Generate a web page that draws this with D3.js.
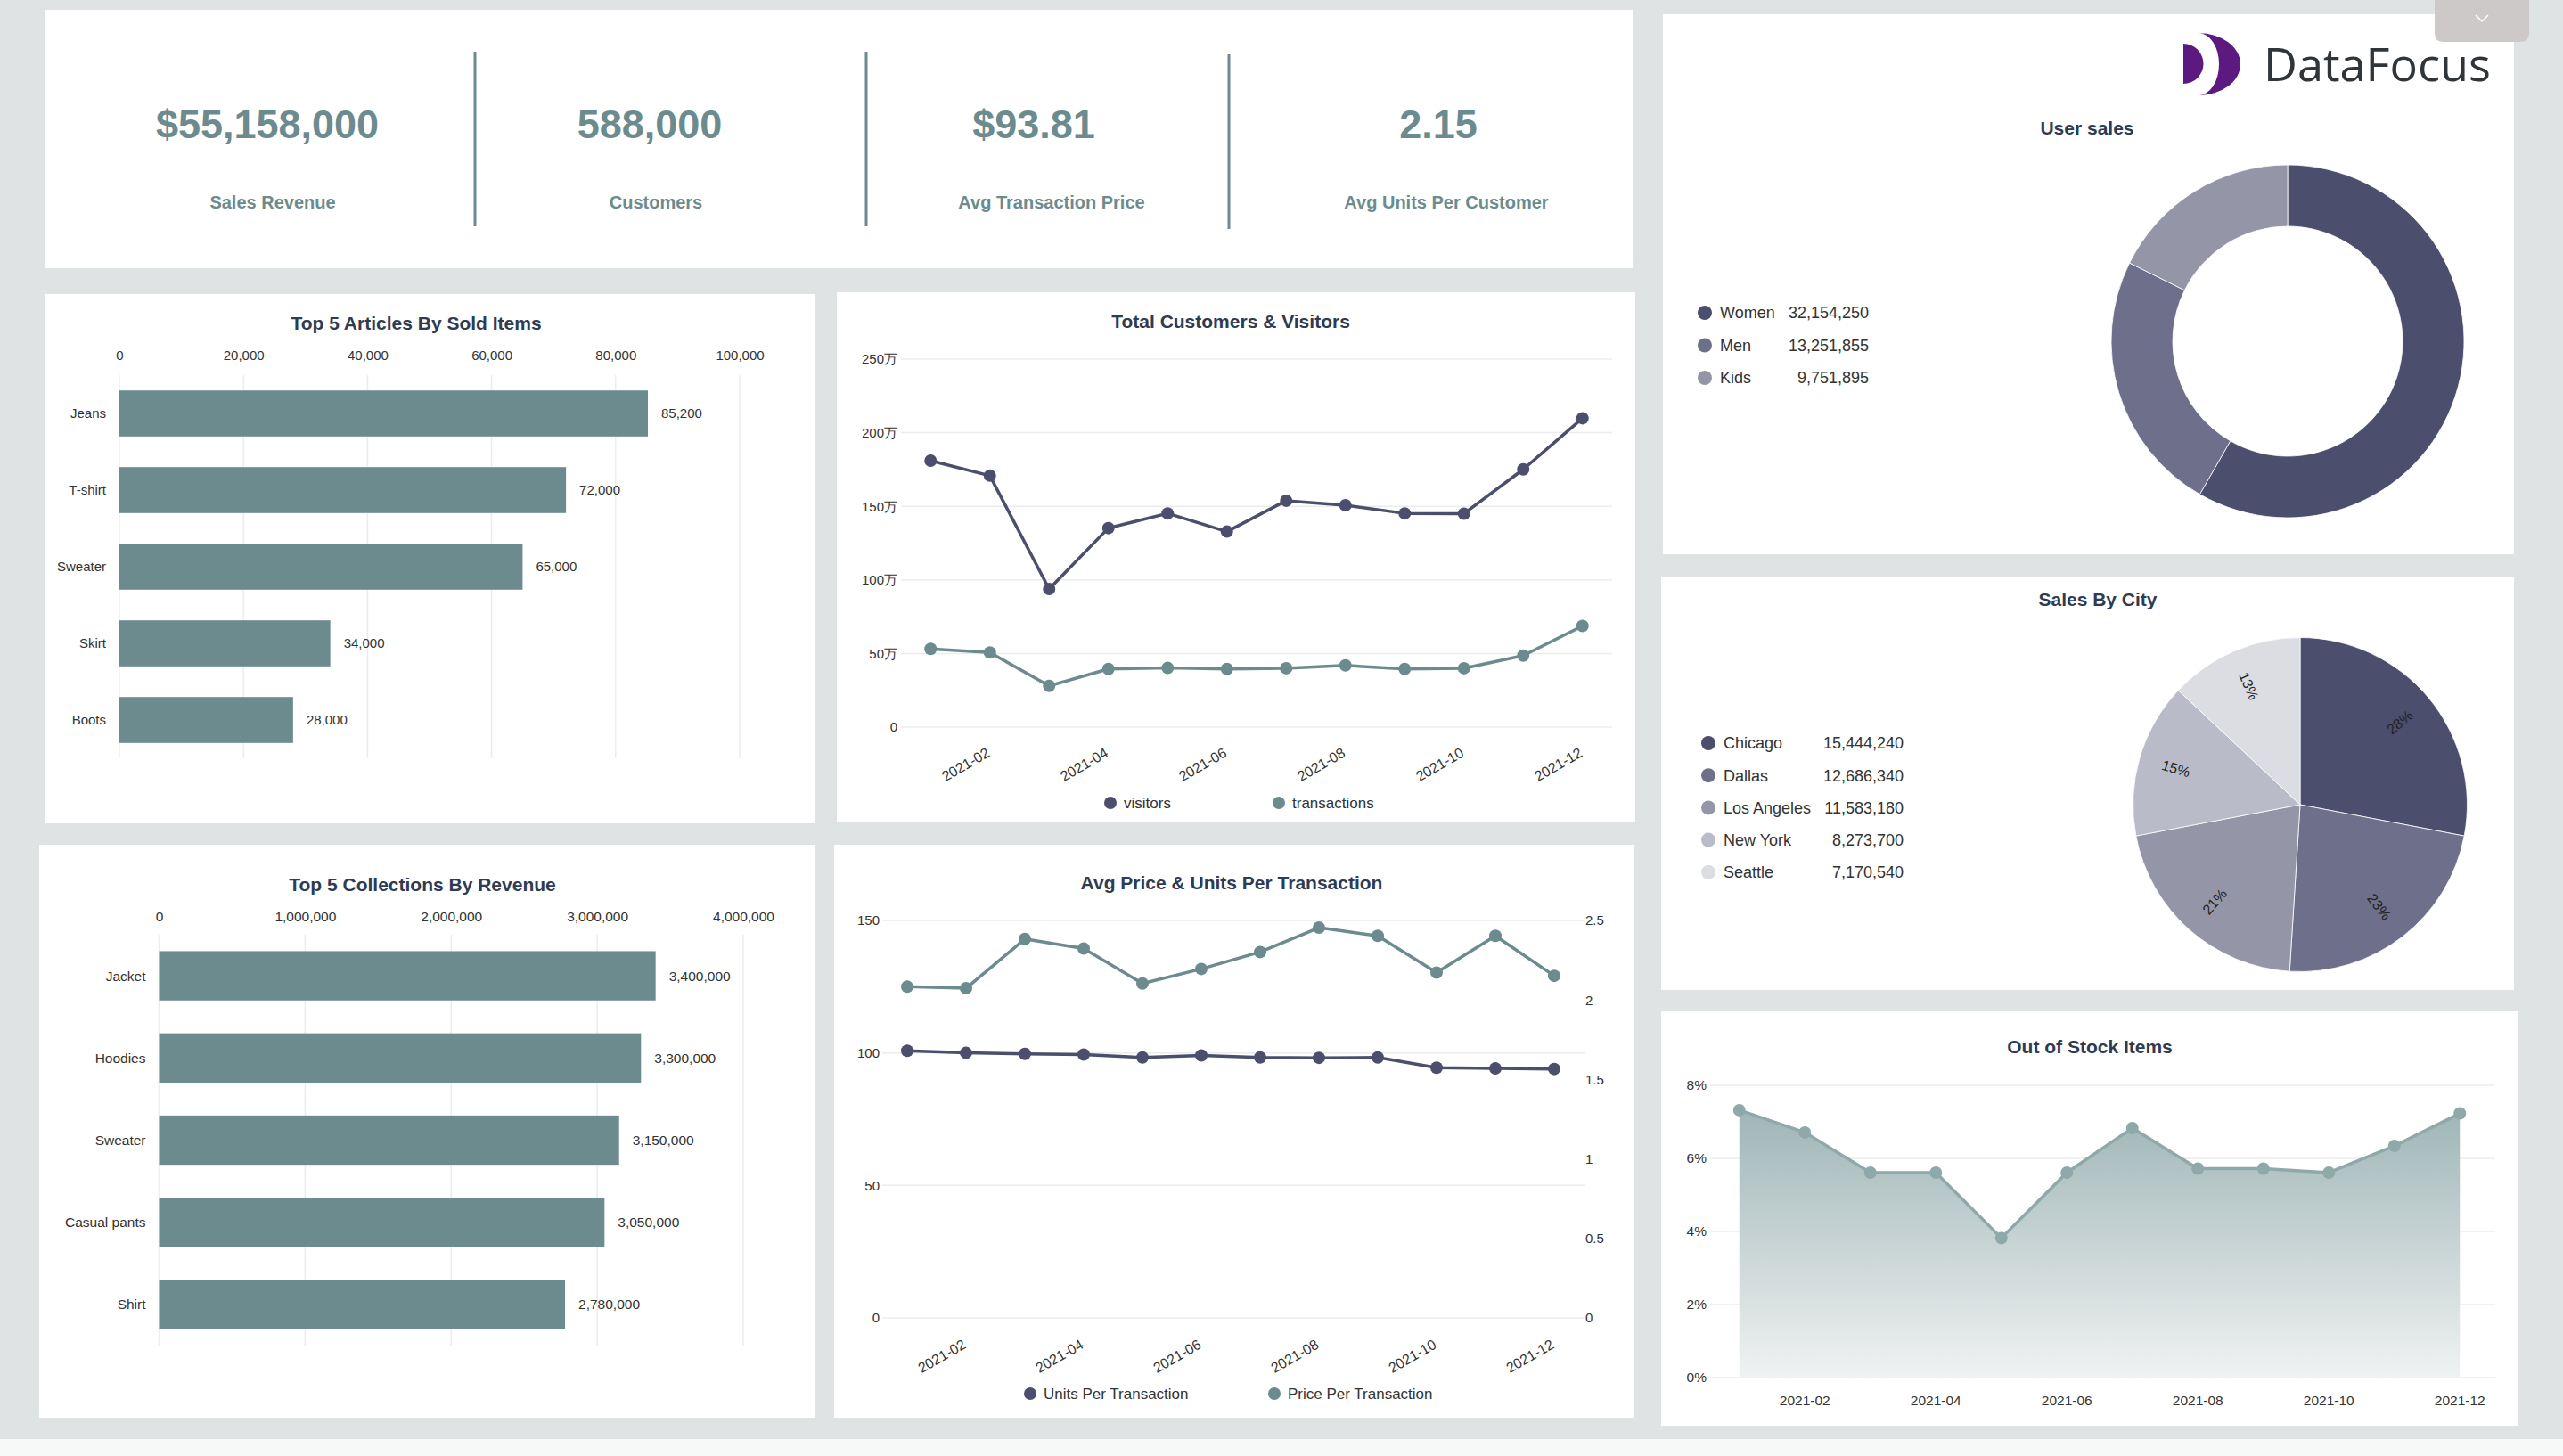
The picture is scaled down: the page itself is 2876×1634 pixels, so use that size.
<!DOCTYPE html>
<html lang="en">
<head>
<meta charset="UTF-8">
<title>DataFocus Sales Dashboard</title>
<script src="https://d3js.org/d3.v7.min.js"></script>
<style>
    body { margin: 0; background: #dfe3e3; }
    svg { display: block; font-family: "Liberation Sans", Arial, Helvetica, "Noto Sans CJK SC", sans-serif; }
</style>
</head>
<body>
<script>
    // ---- data ----
    var kpiValues = [55158000, 588000, 93.81, 2.15];
    var kpiLabels = ["Sales Revenue", "Customers", "Avg Transaction Price", "Avg Units Per Customer"];
    var kpiFormats = ["$,.0f", ",.0f", "$.2f", ".2f"];

    var articles = ["Jeans", "T-shirt", "Sweater", "Skirt", "Boots"];
    var articleSold = [85200, 72000, 65000, 34000, 28000];
    var articleTicks = [0, 20000, 40000, 60000, 80000, 100000];

    var collections = ["Jacket", "Hoodies", "Sweater", "Casual pants", "Shirt"];
    var collectionRevenue = [3400000, 3300000, 3150000, 3050000, 2780000];
    var collectionTicks = [0, 1000000, 2000000, 3000000, 4000000];

    var months = ["2021-01", "2021-02", "2021-03", "2021-04", "2021-05", "2021-06",
                  "2021-07", "2021-08", "2021-09", "2021-10", "2021-11", "2021-12"];
    var visitors = [1810000, 1708000, 938000, 1352000, 1452000, 1328000, 1538000, 1507000, 1452000, 1450000, 1751000, 2098000];
    var transactions = [531000, 507000, 280000, 395000, 402000, 395000, 400000, 419000, 395000, 400000, 486000, 687000];
    var customerTicks = [0, 500000, 1000000, 1500000, 2000000, 2500000];

    var unitsPerTx = [1.68, 1.667, 1.661, 1.656, 1.638, 1.651, 1.638, 1.636, 1.638, 1.574, 1.569, 1.566];
    var pricePerTx = [125.0, 124.4, 143.0, 139.4, 126.2, 131.7, 138.1, 147.3, 144.2, 130.3, 144.2, 129.1];
    var priceTicks = [0, 50, 100, 150];
    var unitTicks = [0, 0.5, 1, 1.5, 2, 2.5];

    var userSegments = ["Women", "Men", "Kids"];
    var userSales = [32154250, 13251855, 9751895];

    var cities = ["Chicago", "Dallas", "Los Angeles", "New York", "Seattle"];
    var citySales = [15444240, 12686340, 11583180, 8273700, 7170540];

    var outOfStock = [0.0732, 0.0671, 0.0561, 0.0561, 0.0382, 0.0561, 0.0683, 0.0572, 0.0572, 0.0561, 0.0634, 0.0723];
    var stockTicks = [0, 0.02, 0.04, 0.06, 0.08];

    // ---- styling ----
    var teal = "#6b8b8e";
    var navy = "#4b4e6d";
    var titleColor = "#2f3b52";
    var textColor = "#333";
    var gridColor = "#ececec";
    var purples = ["#4b4e6d", "#6e6f8a", "#9496a8", "#babbc8", "#dcdce3"];

    var w = 2876;
    var h = 1634;

    var svg = d3.select("body")
        .append("svg")
        .attr("width", w)
        .attr("height", h);

    svg.append("rect").attr("width", w).attr("height", h).attr("fill", "#dfe3e3");
    svg.append("rect").attr("y", 1615).attr("width", w).attr("height", h - 1615).attr("fill", "#f7f8f8");

    function panel(x, y, pw, ph) {
        svg.append("rect")
            .attr("x", x).attr("y", y)
            .attr("width", pw).attr("height", ph)
            .attr("fill", "#fff");
    }

    function title(text, cx, cy) {
        svg.append("text")
            .attr("x", cx).attr("y", cy)
            .attr("dy", "0.35em")
            .attr("text-anchor", "middle")
            .style("font-size", "21px")
            .style("font-weight", "bold")
            .style("fill", titleColor)
            .text(text);
    }

    function styleAxis(g, size) {
        g.select(".domain").remove();
        g.selectAll("text")
            .style("font-size", size + "px")
            .style("fill", textColor)
            .style("font-family", "inherit");
    }

    panel(50, 11, 1782, 290);
    panel(51, 330, 864, 594);
    panel(939, 328, 896, 595);
    panel(44, 948, 871, 643);
    panel(936, 948, 898, 643);
    panel(1866, 16, 955, 606);
    panel(1864, 647, 957, 464);
    panel(1864, 1135, 962, 465);

    // ---- KPI row ----
    var kpiCenters = [300, 729, 1160, 1614];
    var labelCenters = [306, 736, 1180, 1623];

    kpiValues.forEach(function(v, i) {
        svg.append("text")
            .attr("x", kpiCenters[i]).attr("y", 155)
            .attr("text-anchor", "middle")
            .style("font-size", "45px")
            .style("font-weight", "bold")
            .style("fill", teal)
            .text(d3.format(kpiFormats[i])(v));

        svg.append("text")
            .attr("x", labelCenters[i]).attr("y", 234)
            .attr("text-anchor", "middle")
            .style("font-size", "20px")
            .style("font-weight", "bold")
            .style("fill", teal)
            .text(kpiLabels[i]);
    });

    [[533, 58], [972, 58], [1379, 61]].forEach(function(d) {
        svg.append("line")
            .attr("x1", d[0]).attr("x2", d[0])
            .attr("y1", d[1]).attr("y2", d[1] + 196)
            .attr("stroke", teal)
            .attr("stroke-width", 3);
    });

    // ---- horizontal bar charts ----
    function barChart(names, values, ticks, xRange, bandRange, axisY, fontSize) {
        var x = d3.scaleLinear()
            .domain([0, ticks[ticks.length - 1]])
            .range(xRange);

        var y = d3.scaleBand()
            .domain(names)
            .range(bandRange)
            .paddingInner(0.4)
            .paddingOuter(0.2);

        svg.append("g")
            .selectAll("line")
            .data(ticks)
            .enter()
            .append("line")
            .attr("x1", function(d) { return x(d); })
            .attr("x2", function(d) { return x(d); })
            .attr("y1", bandRange[0])
            .attr("y2", bandRange[1])
            .attr("stroke", gridColor)
            .attr("stroke-width", 1.5);

        var axis = svg.append("g")
            .attr("transform", "translate(0," + axisY + ")")
            .call(d3.axisTop(x).tickValues(ticks).tickSize(0).tickPadding(0).tickFormat(d3.format(",")));
        styleAxis(axis, fontSize);

        var data = names.map(function(n, i) { return {name: n, value: values[i]}; });

        svg.append("g")
            .selectAll("rect")
            .data(data)
            .enter()
            .append("rect")
            .attr("x", x(0))
            .attr("y", function(d) { return y(d.name); })
            .attr("width", function(d) { return x(d.value) - x(0); })
            .attr("height", y.bandwidth())
            .attr("fill", teal);

        svg.append("g")
            .selectAll("text")
            .data(data)
            .enter()
            .append("text")
            .attr("x", function(d) { return x(d.value) + 15; })
            .attr("y", function(d) { return y(d.name) + y.bandwidth() / 2; })
            .attr("dy", "0.35em")
            .style("font-size", fontSize + "px")
            .style("fill", textColor)
            .text(function(d) { return d3.format(",")(d.value); });

        svg.append("g")
            .selectAll("text")
            .data(data)
            .enter()
            .append("text")
            .attr("x", x(0) - 15)
            .attr("y", function(d) { return y(d.name) + y.bandwidth() / 2; })
            .attr("dy", "0.35em")
            .attr("text-anchor", "end")
            .style("font-size", fontSize + "px")
            .style("fill", textColor)
            .text(function(d) { return d.name; });
    }

    title("Top 5 Articles By Sold Items", 467, 363);
    barChart(articles, articleSold, articleTicks, [134, 830], [421, 851], 404, 15);

    title("Top 5 Collections By Revenue", 474, 993);
    barChart(collections, collectionRevenue, collectionTicks, [178.5, 834], [1049, 1510], 1034, 15.5);

    // ---- line chart helpers ----
    function gridLines(ticks, y, x1, x2) {
        svg.append("g")
            .selectAll("line")
            .data(ticks)
            .enter()
            .append("line")
            .attr("x1", x1).attr("x2", x2)
            .attr("y1", function(d) { return y(d); })
            .attr("y2", function(d) { return y(d); })
            .attr("stroke", gridColor)
            .attr("stroke-width", 1.5);
    }

    function rotatedMonths(x, baseY) {
        svg.append("g")
            .selectAll("text")
            .data(months.filter(function(m, i) { return i % 2 == 1; }))
            .enter()
            .append("text")
            .attr("transform", function(d) { return "translate(" + (x(d) + 1) + "," + baseY + ") rotate(-30)"; })
            .attr("text-anchor", "end")
            .style("font-size", "16px")
            .style("fill", textColor)
            .text(function(d) { return d; });
    }

    function series(values, x, y, color) {
        var data = months.map(function(m, i) { return {m: m, v: values[i]}; });
        var line = d3.line()
            .x(function(d) { return x(d.m); })
            .y(function(d) { return y(d.v); });

        svg.append("path")
            .datum(data)
            .attr("d", line)
            .attr("fill", "none")
            .attr("stroke", color)
            .attr("stroke-width", 3.5)
            .attr("stroke-linejoin", "round");

        svg.append("g")
            .selectAll("circle")
            .data(data)
            .enter()
            .append("circle")
            .attr("cx", function(d) { return x(d.m); })
            .attr("cy", function(d) { return y(d.v); })
            .attr("r", 7)
            .attr("fill", color);
    }

    function lineLegend(items, y) {
        items.forEach(function(it) {
            svg.append("circle")
                .attr("cx", it[0]).attr("cy", y)
                .attr("r", 7)
                .attr("fill", it[2]);
            svg.append("text")
                .attr("x", it[0] + 15).attr("y", y)
                .attr("dy", "0.35em")
                .style("font-size", "17px")
                .style("fill", textColor)
                .text(it[1]);
        });
    }

    // ---- Total Customers & Visitors ----
    title("Total Customers & Visitors", 1381, 361);

    var xc = d3.scalePoint().domain(months).range([1011, 1809]).padding(0.5);
    var yc = d3.scaleLinear().domain([0, 2500000]).range([816, 403]);

    gridLines(customerTicks, yc, 1011, 1809);

    var cAxis = svg.append("g")
        .attr("transform", "translate(1007,0)")
        .call(d3.axisLeft(yc).tickValues(customerTicks).tickSize(0).tickPadding(0)
            .tickFormat(function(d) { return d == 0 ? "0" : (d / 10000) + "万"; }));
    styleAxis(cAxis, 15);

    rotatedMonths(xc, 848);
    series(visitors, xc, yc, navy);
    series(transactions, xc, yc, teal);
    lineLegend([[1246, "visitors", navy], [1435, "transactions", teal]], 901);

    // ---- Avg Price & Units Per Transaction ----
    title("Avg Price & Units Per Transaction", 1382, 991);

    var xp = d3.scalePoint().domain(months).range([985, 1777]).padding(0.5);
    var yl = d3.scaleLinear().domain([0, 150]).range([1479, 1033]);
    var yr = d3.scaleLinear().domain([0, 2.5]).range([1479, 1033]);

    gridLines(priceTicks, yl, 990, 1779);

    var lAxis = svg.append("g")
        .attr("transform", "translate(987,0)")
        .call(d3.axisLeft(yl).tickValues(priceTicks).tickSize(0).tickPadding(0));
    styleAxis(lAxis, 15);

    var rAxis = svg.append("g")
        .attr("transform", "translate(1779,0)")
        .call(d3.axisRight(yr).tickValues(unitTicks).tickSize(0).tickPadding(0).tickFormat(d3.format("")));
    styleAxis(rAxis, 15);

    rotatedMonths(xp, 1512);
    series(pricePerTx, xp, yl, teal);
    series(unitsPerTx, xp, yr, navy);
    lineLegend([[1156, "Units Per Transaction", navy], [1430, "Price Per Transaction", teal]], 1564);

    // ---- logo + tab ----
    var purple = "#5c1a80";
    svg.append("path")
        .attr("d", "M2450,49 A22.5,22.5 0 0 1 2450,94 Z")
        .attr("fill", purple);
    svg.append("path")
        .attr("d", "M2467,37 A47,35 0 0 1 2467,107 A23,35 0 0 0 2467,37 Z")
        .attr("fill", purple);
    svg.append("text")
        .attr("x", 2540).attr("y", 91)
        .attr("textLength", 255)
        .attr("lengthAdjust", "spacingAndGlyphs")
        .style("font-family", "'Open Sans', 'Noto Sans', sans-serif")
        .style("font-size", "52px")
        .style("fill", "#30353a")
        .text("DataFocus");

    svg.append("path")
        .attr("d", "M2732,0 H2838 V37 Q2838,47 2828,47 H2742 Q2732,47 2732,37 Z")
        .attr("fill", "#cdc9c8");
    svg.append("polyline")
        .attr("points", "2778,17 2785,24 2792,17")
        .attr("fill", "none")
        .attr("stroke", "#fff")
        .attr("stroke-width", 1.5);

    // ---- legends for round charts ----
    function valueLegend(names, values, cx, y0, step, valueX) {
        names.forEach(function(n, i) {
            var yy = y0 + i * step;
            svg.append("circle")
                .attr("cx", cx).attr("cy", yy)
                .attr("r", 8)
                .attr("fill", purples[i]);
            svg.append("text")
                .attr("x", cx + 17).attr("y", yy)
                .attr("dy", "0.35em")
                .style("font-size", "18px")
                .style("fill", textColor)
                .text(n);
            svg.append("text")
                .attr("x", valueX).attr("y", yy)
                .attr("dy", "0.35em")
                .attr("text-anchor", "end")
                .style("font-size", "18px")
                .style("fill", textColor)
                .text(d3.format(",")(values[i]));
        });
    }

    // ---- User sales donut ----
    title("User sales", 2342, 144);

    var pie = d3.pie().sort(null);

    var donutArc = d3.arc().innerRadius(129).outerRadius(198);
    svg.append("g")
        .attr("transform", "translate(2567,383)")
        .selectAll("path")
        .data(pie(userSales))
        .enter()
        .append("path")
        .attr("d", donutArc)
        .attr("fill", function(d, i) { return purples[i]; })
        .attr("stroke", "#fff")
        .attr("stroke-width", 0.8);

    valueLegend(userSegments, userSales, 1913, 351, 36.5, 2097);

    // ---- Sales By City pie ----
    title("Sales By City", 2354, 673);

    var cityTotal = d3.sum(citySales);
    var pieArc = d3.arc().innerRadius(0).outerRadius(187.5);
    var cityG = svg.append("g").attr("transform", "translate(2581,903)");

    cityG.selectAll("path")
        .data(pie(citySales))
        .enter()
        .append("path")
        .attr("d", pieArc)
        .attr("fill", function(d, i) { return purples[i]; })
        .attr("stroke", "#fff")
        .attr("stroke-width", 0.8);

    cityG.selectAll("text")
        .data(pie(citySales))
        .enter()
        .append("text")
        .attr("transform", function(d) {
            var a = (d.startAngle + d.endAngle) / 2;
            var deg = a * 180 / Math.PI - 90;
            if (deg > 90) deg -= 180;
            return "translate(" + (145 * Math.sin(a)) + "," + (-145 * Math.cos(a)) + ") rotate(" + deg + ")";
        })
        .attr("text-anchor", "middle")
        .attr("dy", "0.35em")
        .style("font-size", "16px")
        .style("fill", "#222")
        .text(function(d) { return d3.format(".0%")(d.value / cityTotal); });

    valueLegend(cities, citySales, 1917, 834, 36.2, 2136);

    // ---- Out of Stock Items ----
    title("Out of Stock Items", 2345, 1175);

    var xs = d3.scalePoint().domain(months).range([1915, 2797]).padding(0.5);
    var ys = d3.scaleLinear().domain([0, 0.08]).range([1546, 1218]);

    gridLines(stockTicks, ys, 1919, 2800);

    var sAxis = svg.append("g")
        .attr("transform", "translate(1915,0)")
        .call(d3.axisLeft(ys).tickValues(stockTicks).tickSize(0).tickPadding(0).tickFormat(d3.format(".0%")));
    styleAxis(sAxis, 15.5);

    svg.append("g")
        .selectAll("text")
        .data(months.filter(function(m, i) { return i % 2 == 1; }))
        .enter()
        .append("text")
        .attr("x", function(d) { return xs(d); })
        .attr("y", 1577)
        .attr("text-anchor", "middle")
        .style("font-size", "15.5px")
        .style("fill", textColor)
        .text(function(d) { return d; });

    var grad = svg.append("defs")
        .append("linearGradient")
        .attr("id", "stockFill")
        .attr("gradientUnits", "userSpaceOnUse")
        .attr("x1", 0).attr("x2", 0)
        .attr("y1", ys(0.08)).attr("y2", ys(0));
    grad.append("stop").attr("offset", "0").attr("stop-color", "#98b0b1");
    grad.append("stop").attr("offset", "1").attr("stop-color", "#f0f2f2");

    var stockData = months.map(function(m, i) { return {m: m, v: outOfStock[i]}; });

    svg.append("path")
        .datum(stockData)
        .attr("d", d3.area()
            .x(function(d) { return xs(d.m); })
            .y0(ys(0))
            .y1(function(d) { return ys(d.v); }))
        .attr("fill", "url(#stockFill)");

    series(outOfStock, xs, ys, "#8fa9ab");
</script>
</body>
</html>
